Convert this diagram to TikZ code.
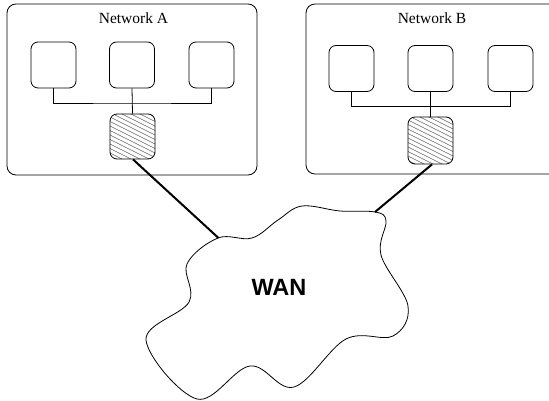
\documentclass[tikz,border=0pt]{standalone}
\usepackage{fontspec}
\setmainfont{Liberation Serif}
\newfontfamily\wanfont{Liberation Sans}
\usetikzlibrary{calc}
\tikzset{
  netbox/.style={draw, line width=0.8pt, rounded corners=9pt, inner sep=0pt},
  hostbox/.style={draw, line width=0.8pt, rounded corners=7pt, inner sep=0pt, minimum width=45pt, minimum height=46pt},
  routerbox/.style={draw, line width=0.8pt, rounded corners=7pt, inner sep=0pt, minimum width=45pt,
    path picture={
      \foreach \i in {-40,-35.5,...,60}{
        \draw[gray!80!black, line width=0.5pt] ($(path picture bounding box.north west)+(-5,\i)$) -- ++(80,40);
      }
    }},
  bus/.style={line width=0.8pt},
  wanlink/.style={line width=2pt},
  title/.style={font=\fontsize{15.5}{18}\selectfont, inner sep=0pt},
}
\begin{document}
\begin{tikzpicture}[x=1pt,y=-1pt]
\clip (0,0) rectangle (549,401);
% Network A
\node[netbox, minimum width=250pt, minimum height=171pt] (netA) at (132,89.5) {};
\node[title] (tA) at (133.5,18.5) {Network A};
\node[hostbox] (a1) at (53.5,65) {};
\node[hostbox] (a2) at (132,65) {};
\node[hostbox] (a3) at (211.5,65) {};
\node[routerbox, minimum height=45pt] (rA) at (132.5,136.5) {};
\coordinate (busA) at (132,103);
\draw[bus] (a1.south) |- (busA) -| (a3.south);
\draw[bus] (a2.south) -- (rA.north);
% Network B
\node[netbox, minimum width=260pt, minimum height=170pt] (netB) at (436,89) {};
\node[title] (tB) at (432,18.5) {Network B};
\node[hostbox] (b1) at (351.5,68.5) {};
\node[hostbox] (b2) at (430.5,68.5) {};
\node[hostbox] (b3) at (510.5,68.5) {};
\node[routerbox, minimum height=47pt] (rB) at (430.5,140.5) {};
\coordinate (busB) at (430.5,106.5);
\draw[bus] (b1.south) |- (busB) -| (b3.south);
\draw[bus] (b2.south) -- (rB.north);
% WAN cloud
\draw[line width=0.8pt] plot[smooth cycle, tension=0.6] coordinates {
 (218,238) (252,238) (278,220) (302,206) (340,211) (375,212) (386,221)
 (381,255) (408,306) (393,336) (346,339) (294,387) (250,366) (197,399)
 (146,340) (189,302) (187,264)};
\coordinate (cA) at (218.5,238);
\coordinate (cB) at (375,212);
\node[font=\wanfont\bfseries\fontsize{23.5}{26}\selectfont, inner sep=0pt] (wan) at (279,287) {WAN};
% links
\draw[wanlink] ($(rA.south)+(0.5,0)$) -- (cA);
\draw[wanlink] ($(rB.south)+(1.5,0)$) -- (cB);
\end{tikzpicture}
\end{document}
